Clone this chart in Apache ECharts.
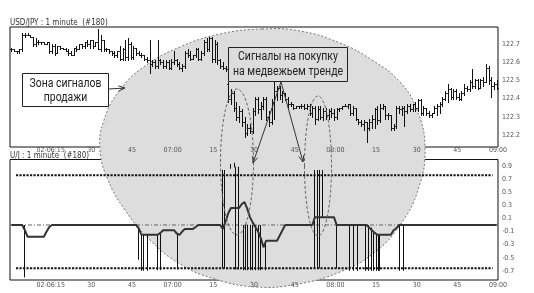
<!DOCTYPE html>
<html><head><meta charset="utf-8">
<script src="https://cdn.jsdelivr.net/npm/echarts@6/dist/echarts.min.js"></script>
<style>html,body{margin:0;padding:0;background:#fff}#c{width:534px;height:293px}</style>
</head><body><div id="c"></div><script>
// ---------- data ----------
const xTickLabels = ['', '02-06:15', '30', '45', '07:00', '15', '30', '45', '08:00', '15', '30', '45', '09:00'];
const priceTicks = [122.2, 122.3, 122.4, 122.5, 122.6, 122.7];
const oscTicks = [0.9, 0.7, 0.5, 0.3, 0.1, -0.1, -0.3, -0.5, -0.7];

const pOpen = [
122.67,122.67,122.66,122.66,122.67,122.75,122.75,122.75,122.74,122.70,
122.71,122.71,122.71,122.70,122.71,122.66,122.69,122.65,122.69,122.68,
122.67,122.66,122.65,122.64,122.68,122.67,122.70,122.69,122.71,122.70,
122.72,122.69,122.71,122.67,122.72,122.67,122.67,122.66,122.65,122.64,
122.66,122.62,122.67,122.63,122.70,122.63,122.68,122.65,122.64,122.64,
122.62,122.61,122.59,122.60,122.58,122.61,122.60,122.58,122.60,122.57,
122.60,122.61,122.59,122.57,122.58,122.65,122.64,122.62,122.64,122.67,
122.62,122.65,122.71,122.67,122.73,122.62,122.70,122.61,122.58,122.57,
122.48,122.40,122.43,122.35,122.30,122.33,122.27,122.21,122.24,122.22,
122.33,122.40,122.34,122.36,122.40,122.30,122.27,122.38,122.44,122.46,
122.42,122.43,122.40,122.37,122.37,122.35,122.36,122.36,122.36,122.35,
122.36,122.32,122.35,122.29,122.34,122.30,122.33,122.31,122.33,122.32,
122.30,122.34,122.35,122.36,122.36,122.37,122.32,122.35,122.29,122.27,
122.26,122.27,122.24,122.27,122.29,122.34,122.28,122.35,122.36,122.31,
122.31,122.24,122.25,122.35,122.34,122.35,122.33,122.36,122.34,122.37,
122.35,122.39,122.32,122.35,122.32,122.31,122.32,122.35,122.36,122.37,
122.40,122.43,122.45,122.41,122.44,122.41,122.40,122.43,122.46,122.45,
122.49,122.47,122.50,122.46,122.50,122.49,122.57,122.50,122.47,122.48];
const pHigh = [
122.68,122.67,122.66,122.67,122.76,122.76,122.76,122.75,122.74,122.73,
122.72,122.71,122.71,122.71,122.71,122.70,122.70,122.69,122.69,122.68,
122.68,122.67,122.66,122.68,122.69,122.70,122.70,122.71,122.72,122.72,
122.72,122.71,122.78,122.75,122.72,122.68,122.67,122.66,122.66,122.66,
122.69,122.68,122.72,122.73,122.71,122.69,122.68,122.66,122.65,122.64,
122.63,122.72,122.61,122.61,122.72,122.62,122.61,122.61,122.61,122.62,
122.66,122.62,122.60,122.59,122.66,122.67,122.66,122.64,122.68,122.68,
122.66,122.72,122.73,122.74,122.74,122.72,122.71,122.62,122.60,122.58,
122.49,122.45,122.44,122.38,122.36,122.34,122.30,122.26,122.26,122.35,
122.41,122.41,122.38,122.41,122.41,122.33,122.40,122.52,122.47,122.47,
122.44,122.43,122.41,122.38,122.37,122.36,122.36,122.37,122.37,122.37,
122.37,122.36,122.36,122.36,122.36,122.35,122.35,122.34,122.35,122.34,
122.35,122.35,122.36,122.37,122.37,122.37,122.36,122.35,122.29,122.28,
122.28,122.27,122.29,122.31,122.35,122.36,122.37,122.37,122.36,122.32,
122.31,122.26,122.36,122.36,122.36,122.36,122.37,122.37,122.37,122.38,
122.40,122.40,122.36,122.35,122.33,122.32,122.36,122.37,122.38,122.41,
122.44,122.48,122.46,122.45,122.45,122.43,122.44,122.48,122.47,122.50,
122.56,122.51,122.51,122.51,122.52,122.59,122.58,122.52,122.49,122.50];
const pLow = [
122.66,122.66,122.65,122.65,122.66,122.74,122.75,122.74,122.69,122.69,
122.70,122.70,122.70,122.70,122.65,122.65,122.64,122.65,122.67,122.67,
122.66,122.64,122.64,122.64,122.66,122.67,122.68,122.68,122.69,122.68,
122.68,122.69,122.67,122.66,122.66,122.66,122.65,122.64,122.63,122.63,
122.61,122.61,122.61,122.61,122.62,122.62,122.64,122.64,122.63,122.61,
122.60,122.54,122.58,122.57,122.57,122.59,122.57,122.57,122.56,122.56,
122.59,122.58,122.56,122.55,122.57,122.63,122.61,122.62,122.63,122.61,
122.61,122.64,122.66,122.66,122.60,122.60,122.59,122.57,122.56,122.55,
122.38,122.37,122.33,122.28,122.27,122.25,122.19,122.20,122.21,122.21,
122.31,122.32,122.29,122.34,122.28,122.25,122.26,122.29,122.39,122.40,
122.38,122.39,122.35,122.36,122.34,122.35,122.35,122.35,122.34,122.34,
122.31,122.30,122.26,122.28,122.29,122.28,122.29,122.29,122.30,122.28,
122.29,122.33,122.34,122.36,122.35,122.31,122.31,122.28,122.26,122.25,
122.23,122.16,122.23,122.24,122.24,122.26,122.27,122.34,122.29,122.29,
122.23,122.23,122.24,122.32,122.31,122.25,122.32,122.33,122.33,122.33,
122.33,122.31,122.31,122.31,122.30,122.30,122.32,122.31,122.32,122.36,
122.39,122.38,122.40,122.40,122.40,122.39,122.39,122.42,122.44,122.44,
122.46,122.46,122.45,122.46,122.47,122.49,122.48,122.41,122.45,122.45];
const pClose = [
122.67,122.66,122.66,122.67,122.75,122.75,122.75,122.74,122.70,122.71,
122.71,122.71,122.70,122.71,122.66,122.69,122.65,122.69,122.68,122.67,
122.66,122.65,122.64,122.68,122.67,122.70,122.69,122.71,122.70,122.72,
122.69,122.71,122.67,122.72,122.67,122.67,122.66,122.65,122.64,122.66,
122.62,122.67,122.63,122.70,122.63,122.68,122.65,122.64,122.64,122.62,
122.61,122.59,122.60,122.58,122.61,122.60,122.58,122.60,122.57,122.60,
122.61,122.59,122.57,122.58,122.65,122.64,122.62,122.64,122.67,122.62,
122.65,122.71,122.67,122.73,122.62,122.70,122.61,122.58,122.57,122.56,
122.40,122.43,122.35,122.30,122.33,122.27,122.21,122.24,122.22,122.33,
122.40,122.34,122.36,122.40,122.30,122.27,122.38,122.44,122.46,122.42,
122.43,122.40,122.37,122.37,122.35,122.36,122.36,122.36,122.35,122.36,
122.32,122.35,122.29,122.34,122.30,122.33,122.31,122.33,122.32,122.30,
122.34,122.35,122.36,122.36,122.37,122.32,122.35,122.29,122.27,122.26,
122.27,122.24,122.27,122.29,122.34,122.28,122.35,122.36,122.31,122.31,
122.24,122.25,122.35,122.34,122.35,122.33,122.36,122.34,122.37,122.35,
122.39,122.32,122.35,122.32,122.31,122.32,122.35,122.36,122.37,122.40,
122.43,122.45,122.41,122.44,122.41,122.40,122.43,122.46,122.45,122.49,
122.47,122.50,122.46,122.50,122.49,122.57,122.50,122.47,122.48,122.46];

const oscLine = [
0,0,0,0,0,-0.08,-0.18,-0.18,-0.18,-0.18,
-0.18,-0.18,-0.18,-0.1,-0.03,0,0,0,0,0,
0,0,0,0,0,0,0,0,0,0,
0,0,0,0,0,0,0,0,0,0,
0,0,0,0,0,0,0,-0.05,-0.15,-0.15,
-0.15,-0.15,-0.15,-0.15,-0.15,-0.12,-0.08,-0.08,-0.08,-0.08,
-0.08,-0.13,-0.15,-0.1,-0.06,-0.06,-0.06,-0.06,-0.03,0,
0,0,0,0,0,0,0,0,-0.06,0.05,
0.18,0.26,0.26,0.26,0.26,0.32,0.35,0.25,0.12,0.04,
-0.03,-0.1,-0.2,-0.34,-0.24,-0.24,-0.24,-0.24,-0.24,-0.16,
-0.08,0,0,0,0,0,0,0,0,0,
0,0,0.12,0.12,0.12,0.12,0.12,0.12,0.12,0.12,
0,0,0,0,0,0,0,0,0,0,
0,0,-0.04,-0.08,-0.12,-0.15,-0.15,-0.15,-0.15,-0.15,
-0.15,-0.08,-0.05,0,0,0,0,0,0,0,
0,0,0,0,0,0,0,0,0,0,
0,0,0,0,0,0,0,0,0,0,
0,0,0,0,0,0,0,0,0,0];

const sigMin  = [5.2,47.3,48.2,49.2,50.4,54.1,55.3,61.5,78.1,78.9,81.0,82.5,83.0,84.0,85.8,86.7,87.6,88.6,89.4,90.4,91.3,92.3,94.2,112.1,113.1,114.1,115.0,120.1,125.2,126.7,127.9,130.9,132.2,133.0,134.0,135.0,135.6,136.2,143.6,144.8];
const sigFrom = [0,-0.05,-0.15,-0.15,-0.15,-0.15,-0.12,-0.13,0.84,0.84,0.86,0.88,0.89,0.89,0,0,0,0,0,0,0,0,-0.24,0.84,0.84,0.84,0.84,0,0,0,0,0,0,-0.04,-0.1,-0.15,-0.15,-0.15,0,0];
const sigTo   = [-0.8,-0.53,-0.7,-0.7,-0.7,-0.69,-0.69,-0.68,-0.66,-0.66,0.93,0.95,-0.68,-0.68,-0.69,-0.69,-0.69,-0.69,-0.69,-0.69,-0.69,-0.69,-0.69,-0.66,-0.66,-0.66,0.12,-0.66,-0.7,-0.7,-0.7,-0.7,-0.7,-0.7,-0.7,-0.7,-0.7,-0.7,-0.7,-0.7];

const upperLevel = 0.76, lowerLevel = -0.66;
const levelSpan = [2.2, 178];

// ---------- build ----------
const chart = echarts.init(document.getElementById('c'), null, {renderer: 'canvas'});
const SMALL = "'Liberation Sans Narrow','DejaVu Sans Condensed','Liberation Sans',sans-serif";
const ANN_FONT = "12px Roboto, 'Noto Sans', sans-serif";

const bars = pOpen.map((o, i) => [i + 0.5, o, pHigh[i], pLow[i], pClose[i]]);
const osc = oscLine.map((v, i) => [i + 0.5, v]);
const sigs = sigMin.map((m, i) => [m, sigFrom[i], sigTo[i]]);

function crisp(v) { return Math.round(v) + 0.5; }
function renderOHLC(params, api) {
  const x = api.value(0);
  const o = api.coord([x, api.value(1)]);
  const h = api.coord([x, api.value(2)]);
  const l = api.coord([x, api.value(3)]);
  const c = api.coord([x, api.value(4)]);
  const w = api.size([1, 0])[0] / 2;
  const xc = crisp(h[0]);
  const st = {stroke: '#111', lineWidth: 1};
  return {type: 'group', children: [
    {type: 'line', shape: {x1: xc, y1: Math.round(h[1]), x2: xc, y2: Math.round(l[1]) + 1}, style: st},
    {type: 'line', shape: {x1: xc - w, y1: crisp(o[1]), x2: xc, y2: crisp(o[1])}, style: st},
    {type: 'line', shape: {x1: xc, y1: crisp(c[1]), x2: xc + w, y2: crisp(c[1])}, style: st}
  ]};
}
function renderSig(params, api) {
  const x = api.value(0);
  const a = api.coord([x, api.value(1)]);
  const b = api.coord([x, api.value(2)]);
  const xc = crisp(a[0]);
  return {type: 'line', shape: {x1: xc, y1: a[1], x2: xc, y2: b[1]}, style: {stroke: '#111', lineWidth: 1}};
}

function arrow(x1, y1, x2, y2) {
  const a = Math.atan2(y2 - y1, x2 - x1), L = 7, s = 0.38;
  return [
    {type: 'line', z: 100, shape: {x1, y1, x2, y2}, style: {stroke: '#333', lineWidth: 1}},
    {type: 'polyline', z: 100, shape: {points: [[x2 - L * Math.cos(a - s), y2 - L * Math.sin(a - s)], [x2, y2], [x2 - L * Math.cos(a + s), y2 - L * Math.sin(a + s)]]},
     style: {stroke: '#333', fill: null, lineWidth: 1}}
  ];
}

// annotation text, squeezed horizontally to match the condensed face of the original
const mctx = document.createElement('canvas').getContext('2d');
mctx.font = ANN_FONT;
function annText(cx, cy, text, scale) {
  return {type: 'text', z: 101, x: cx, y: cy, scaleX: scale, scaleY: 1,
          style: {x: 0, y: 0, text, font: ANN_FONT, fill: '#222', align: 'center', verticalAlign: 'middle'}};
}
const s1 = 72 / mctx.measureText('Зона сигналов').width;
const s2 = 100 / mctx.measureText('Сигналы на покупку').width;

const ellipsePts = [[262,29],[300,31],[340,43],[372,60],[400,82],[417,110],[425,148],[418,190],[400,225],[374,253],[340,272],[298,284],[256,287],[215,279],[180,264],[150,240],[125,210],[108,180],[100,150],[104,120],[120,90],[145,66],[180,47],[220,34]];
const GRAY = '#dddddd';

const xAxisBase = {
  type: 'value', min: 0, max: 180, interval: 15,
  axisLine: {show: false}, axisTick: {show: false}, splitLine: {show: false},
  axisLabel: {fontSize: 7, color: '#555', fontFamily: SMALL, showMinLabel: true, showMaxLabel: true, hideOverlap: false,
              formatter: v => xTickLabels[Math.round(v / 15)] || ''}
};

chart.setOption({
  animation: false,
  backgroundColor: '#fff',
  grid: [
    {left: 10, right: 36, top: 27, height: 120, show: true, borderColor: '#111', borderWidth: 1, backgroundColor: 'transparent'},
    {left: 10, right: 36, top: 159.5, height: 120.5, show: true, borderColor: '#111', borderWidth: 1, backgroundColor: 'transparent'}
  ],
  xAxis: [
    Object.assign({}, xAxisBase, {gridIndex: 0, axisLabel: Object.assign({}, xAxisBase.axisLabel, {margin: 0})}),
    Object.assign({}, xAxisBase, {gridIndex: 1, axisLabel: Object.assign({}, xAxisBase.axisLabel, {margin: 2})})
  ],
  yAxis: [
    {type: 'value', gridIndex: 0, position: 'right', min: 122.134, max: 122.793,
     axisLine: {show: false}, axisTick: {show: false}, splitLine: {show: false},
     axisLabel: {customValues: priceTicks, fontSize: 7, color: '#555', fontFamily: SMALL, margin: 4, formatter: v => v.toFixed(1)}},
    {type: 'value', gridIndex: 1, position: 'right', min: -0.84, max: 1.0,
     axisLine: {show: false}, axisTick: {show: false}, splitLine: {show: false},
     axisLabel: {customValues: oscTicks, fontSize: 7, color: '#555', fontFamily: SMALL, margin: 4, formatter: v => v.toFixed(1)}}
  ],
  graphic: {elements: [
    {type: 'polygon', z: 0, shape: {points: ellipsePts, smooth: 0.45}, style: {fill: GRAY, stroke: '#777', lineWidth: 1, lineDash: [2, 2]}},
    {type: 'ellipse', z: 50, shape: {cx: 237, cy: 162, rx: 16.5, ry: 73}, style: {fill: null, stroke: '#666', lineWidth: 1, lineDash: [3, 2]}},
    {type: 'ellipse', z: 50, shape: {cx: 318, cy: 166, rx: 13.5, ry: 70}, style: {fill: null, stroke: '#666', lineWidth: 1, lineDash: [3, 2]}},
    {type: 'rect', z: 100, shape: {x: 22.5, y: 73.5, width: 86, height: 33}, style: {fill: '#fff', stroke: '#222', lineWidth: 1}},
    annText(65.5, 83.5, 'Зона сигналов', s1),
    annText(65.5, 98, 'продажи', s1),
    {type: 'rect', z: 100, shape: {x: 228.5, y: 47.5, width: 119, height: 34}, style: {fill: GRAY, stroke: '#222', lineWidth: 1}},
    annText(288, 57, 'Сигналы на покупку', s2),
    annText(288, 72, 'на медвежьем тренде', s2),
    ...arrow(108.5, 89, 125, 88),
    ...arrow(281, 82, 253, 163),
    ...arrow(281, 82, 303, 162),
    {type: 'text', z: 101, style: {x: 10, y: 22.5, text: 'USD/JPY : 1 minute  (#180)', font: '8px ' + SMALL, fill: '#333', verticalAlign: 'middle'}},
    {type: 'text', z: 101, style: {x: 10, y: 155.5, text: 'U/J : 1 minute  (#180)', font: '8px ' + SMALL, fill: '#333', verticalAlign: 'middle'}}
  ]},
  series: [
    {type: 'custom', name: 'USD/JPY', xAxisIndex: 0, yAxisIndex: 0, renderItem: renderOHLC, data: bars, encode: {x: 0, y: [1, 2, 3, 4]}, z: 10, silent: true},
    {type: 'line', xAxisIndex: 1, yAxisIndex: 1, data: [[0, 0], [180, 0]], symbol: 'none', silent: true, z: 5,
     lineStyle: {color: '#666', width: 1, type: [4, 2, 1, 2]}},
    {type: 'line', xAxisIndex: 1, yAxisIndex: 1, data: levelSpan.map(x => [x, upperLevel]), symbol: 'none', silent: true, z: 6,
     lineStyle: {color: '#111', width: 2, type: [2.2, 1.3]}},
    {type: 'line', xAxisIndex: 1, yAxisIndex: 1, data: levelSpan.map(x => [x, lowerLevel]), symbol: 'none', silent: true, z: 6,
     lineStyle: {color: '#111', width: 2, type: [2.2, 1.3]}},
    {type: 'custom', xAxisIndex: 1, yAxisIndex: 1, renderItem: renderSig, data: sigs, encode: {x: 0, y: [1, 2]}, z: 8, silent: true},
    {type: 'line', xAxisIndex: 1, yAxisIndex: 1, data: osc, symbol: 'none', silent: true, z: 9,
     lineStyle: {color: '#333', width: 2}}
  ]
});
</script></body></html>
